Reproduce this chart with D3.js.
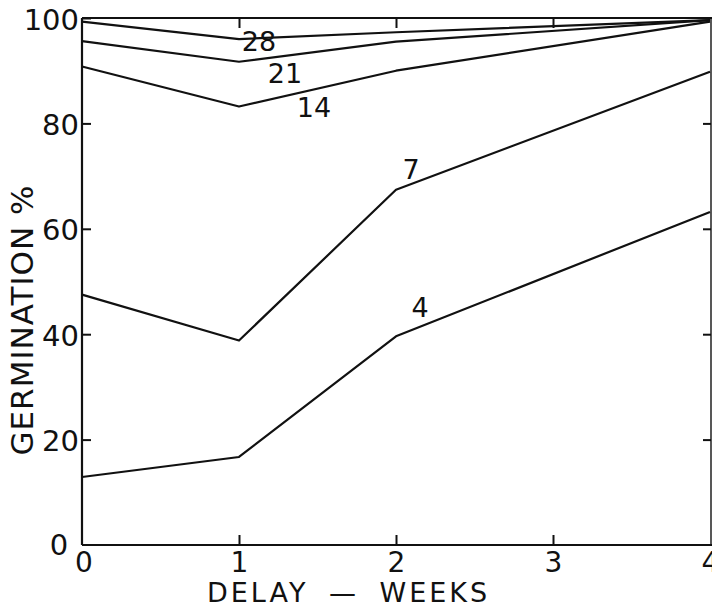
<!DOCTYPE html>
<html>
<head>
<meta charset="utf-8">
<script src="https://cdn.jsdelivr.net/npm/d3@7"></script>
<style>
  html, body { margin: 0; padding: 0; background: #fff; }
  svg { display: block; }
  text { font-family: "DejaVu Sans", sans-serif; fill: #111; }
</style>
</head>
<body>
<svg id="chart" width="712" height="610"></svg>
<script>
// Delay in weeks at which germination was counted
const weeks = [0, 1, 2, 4];

// Germination % for each curve, keyed by its label
const curveLabels = ["28", "21", "14", "7", "4"];
const g28 = [99.3, 96.0, 97.3, 99.6];
const g21 = [95.6, 91.7, 95.5, 99.6];
const g14 = [90.8, 83.2, 90.0, 99.3];
const g7  = [47.5, 38.8, 67.4, 89.8];
const g4  = [12.9, 16.7, 39.6, 63.2];

// Where each curve's label sits (baseline), in data units
const labelWeek = [1.127, 1.293, 1.478, 2.096, 2.153];
const labelPct  = [93.7, 87.7, 81.2, 69.4, 43.3];

const xTicks = [1, 2, 3, 4];
const yTicks = [20, 40, 60, 80, 100];

const series = [g28, g21, g14, g7, g4];

const svg = d3.select("#chart");
const x = d3.scaleLinear().domain([0, 4]).range([82, 710]);
const y = d3.scaleLinear().domain([0, 100]).range([545, 18]);

const ink = "#111";

// Frame: left and bottom axes plus top and right borders
const frame = svg.append("g").attr("fill", "none").attr("stroke", ink).attr("stroke-width", 2.2);
frame.append("line").attr("x1", x(0)).attr("x2", x(0)).attr("y1", y(100)).attr("y2", y(0));
frame.append("line").attr("x1", x(0)).attr("x2", 712).attr("y1", y(0)).attr("y2", y(0));
frame.append("line").attr("x1", x(0)).attr("x2", 712).attr("y1", y(100)).attr("y2", y(100));
frame.append("line").attr("x1", x(4) + 1).attr("x2", x(4) + 1).attr("y1", y(100)).attr("y2", y(0))
  .attr("stroke-width", 1.4);

// Left axis: inward ticks, labels outside
const yAxis = d3.axisLeft(y).tickValues(yTicks).tickSizeInner(-9).tickSizeOuter(0).tickPadding(3)
  .tickFormat(d3.format("d"));
const gy = svg.append("g").attr("transform", `translate(${x(0)},0)`).call(yAxis);
gy.select(".domain").remove();
gy.selectAll(".tick line").attr("stroke", ink).attr("stroke-width", 2);
gy.selectAll(".tick text").attr("font-size", 29).attr("fill", ink).attr("dy", "0.38em");

// Right border ticks pointing inward
const yAxisR = d3.axisRight(y).tickValues(yTicks.filter(v => v < 100)).tickSizeInner(-8).tickSizeOuter(0)
  .tickFormat("");
const gyr = svg.append("g").attr("transform", `translate(${x(4) + 1},0)`).call(yAxisR);
gyr.select(".domain").remove();
gyr.selectAll(".tick line").attr("stroke", ink).attr("stroke-width", 2);

// Bottom axis: inward ticks, labels below
const xAxis = d3.axisBottom(x).tickValues(xTicks).tickSizeInner(-10).tickSizeOuter(0).tickPadding(7)
  .tickFormat(d3.format("d"));
const gx = svg.append("g").attr("transform", `translate(0,${y(0)})`).call(xAxis);
gx.select(".domain").remove();
gx.selectAll(".tick line").attr("stroke", ink).attr("stroke-width", 2)
  .attr("display", d => d === 4 ? "none" : null);
gx.selectAll(".tick text").attr("font-size", 28).attr("fill", ink).attr("dy", "0.71em");

// Top border ticks pointing down
const xAxisT = d3.axisTop(x).tickValues(xTicks.filter(v => v < 4)).tickSizeInner(-10).tickSizeOuter(0)
  .tickFormat("");
const gxt = svg.append("g").attr("transform", `translate(0,${y(100)})`).call(xAxisT);
gxt.select(".domain").remove();
gxt.selectAll(".tick line").attr("stroke", ink).attr("stroke-width", 2);

// The two zeros at the origin
svg.append("text").attr("x", 59).attr("y", 555).attr("text-anchor", "middle").attr("font-size", 29).text("0");
svg.append("text").attr("x", x(0) + 2).attr("y", 572).attr("text-anchor", "middle").attr("font-size", 28).text("0");

// Curves
const line = d3.line().x((d, i) => x(weeks[i])).y(d => y(d));
svg.append("g").selectAll("path").data(series).join("path")
  .attr("d", d => line(d))
  .attr("fill", "none").attr("stroke", ink).attr("stroke-width", 2.2).attr("stroke-linejoin", "round");

// Curve labels
svg.append("g").selectAll("text").data(curveLabels).join("text")
  .attr("x", (d, i) => x(labelWeek[i]))
  .attr("y", (d, i) => y(labelPct[i]))
  .attr("text-anchor", "middle")
  .attr("font-size", 27)
  .text(d => d);

// Axis titles
svg.append("text")
  .attr("transform", "translate(33,320) rotate(-90)")
  .attr("text-anchor", "middle")
  .attr("font-size", 31)
  .attr("letter-spacing", 1)
  .text("GERMINATION %");

svg.append("text")
  .attr("x", 207).attr("y", 602)
  .attr("font-size", 27)
  .attr("letter-spacing", 3)
  .attr("word-spacing", 9)
  .text("DELAY — WEEKS");
</script>
</body>
</html>
